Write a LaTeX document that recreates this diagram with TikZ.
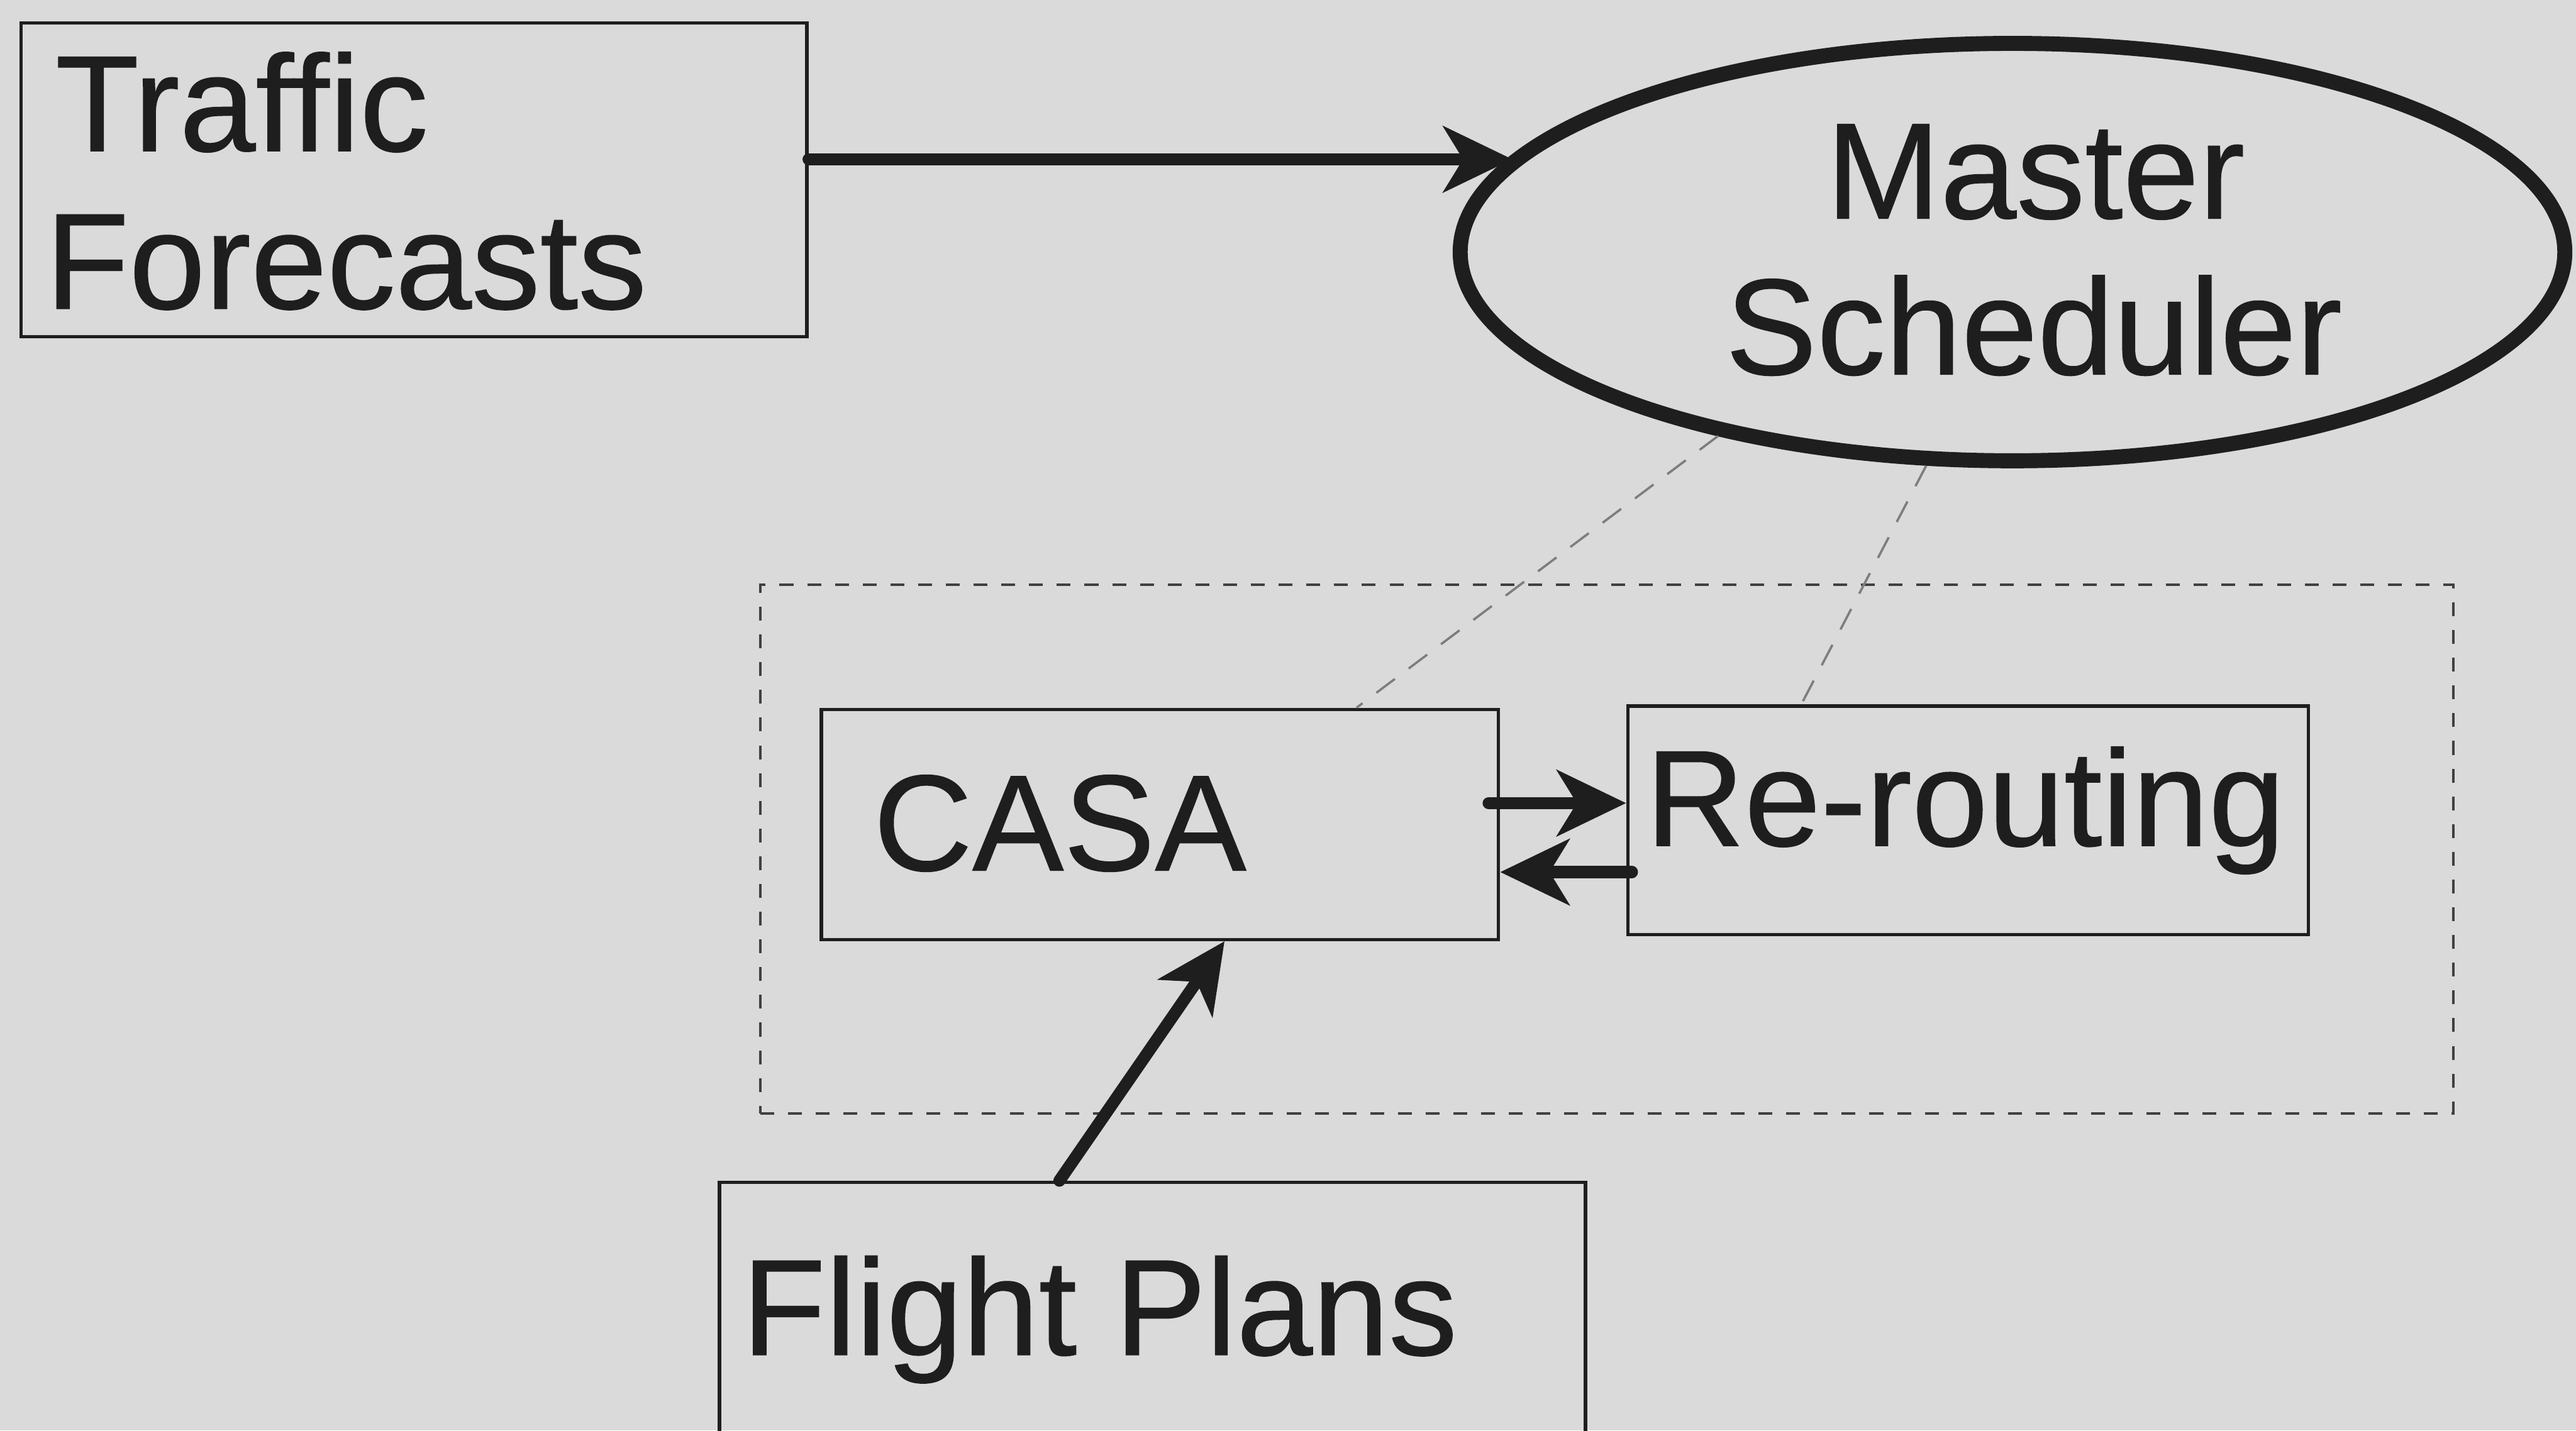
\documentclass[tikz,border=0pt]{standalone}
\usepackage{fontspec}
\setmainfont{Liberation Sans}[BoldFont={Liberation Sans},BoldFeatures={FakeBold=0.6}]
\usetikzlibrary{arrows.meta,shapes.geometric,calc}
\definecolor{bg}{HTML}{DADADA}
\definecolor{ink}{HTML}{1E1E1E}
\definecolor{linkgray}{HTML}{7E7E7E}
\begin{document}
\begin{tikzpicture}[x=0.01cm,y=-0.01cm,
  box/.style={draw=ink,line width=0.6pt,inner sep=0pt},
  frame/.style={draw=ink!85,line width=0.4pt,dash pattern=on 2.4pt off 2.4pt,inner sep=0pt},
  txt/.style={font=\fontsize{23.7}{27.3}\selectfont\bfseries,text=ink,inner sep=0pt},
  conn/.style={draw=ink,line width=2.1pt,line cap=round,-{Stealth[length=0.42cm,width=0.4cm,inset=0.12cm]}},
  link/.style={draw=linkgray,line width=0.4pt,dash pattern=on 4pt off 3pt}]
\useasboundingbox (0,0) rectangle (1568,871);
\clip (0,0) rectangle (1568,871);
\fill[bg] (0,0) rectangle (1568,871);

% boxes
\node[box,minimum width=4.78cm,minimum height=1.91cm] (tf) at (252,109.5) {};
\node[ellipse,draw=ink,line width=2.6pt,minimum width=6.72cm,minimum height=2.54cm,inner sep=0pt] (ms) at (1225,153.5) {};
\node[frame,minimum width=10.3cm,minimum height=3.22cm] (grp) at (978,517) {};
\node[box,minimum width=4.12cm,minimum height=1.40cm] (casa) at (706,502) {};
\node[box,minimum width=4.14cm,minimum height=1.39cm] (rr) at (1198,499.5) {};
\node[box,minimum width=5.27cm,minimum height=1.80cm] (fp) at (701.5,810) {};

% texts
\node[txt,anchor=base west] (t1) at (33,92) {Traffic};
\node[txt,anchor=base west] (t2) at (27,188) {Forecasts};
\node[txt,anchor=base] (t3) at (1239,133) {Master};
\node[txt,anchor=base] (t4) at (1238,228) {Scheduler};
\node[txt,anchor=base west] (t5) at (531,530) {CASA};
\node[txt,anchor=base west] (t6) at (1001,515) {Re-routing};
\node[txt,anchor=base west] (t7) at (451,825) {Flight Plans};

% connectors
\coordinate (y0) at (0,97);
\coordinate (y1) at (0,489);
\coordinate (y2) at (0,531);
\draw[conn] (tf.east |- y0) -- (ms.169.7 |- y0);
\draw[conn] ([xshift=-2pt]casa.east |- y1) -- (rr.west |- y1);
\draw[conn] ([xshift=1pt]rr.west |- y2) -- (casa.east |- y2);
\draw[conn] ($(fp.north west)!0.393!(fp.north east)$) -- ($(casa.south west)!0.595!(casa.south east)$);
\draw[link] (ms.212) -- ($(casa.north west)!0.789!(casa.north east)$);
\draw[link] (ms.248.5) -- ($(rr.north west)!0.256!(rr.north east)$);
\end{tikzpicture}
\end{document}
